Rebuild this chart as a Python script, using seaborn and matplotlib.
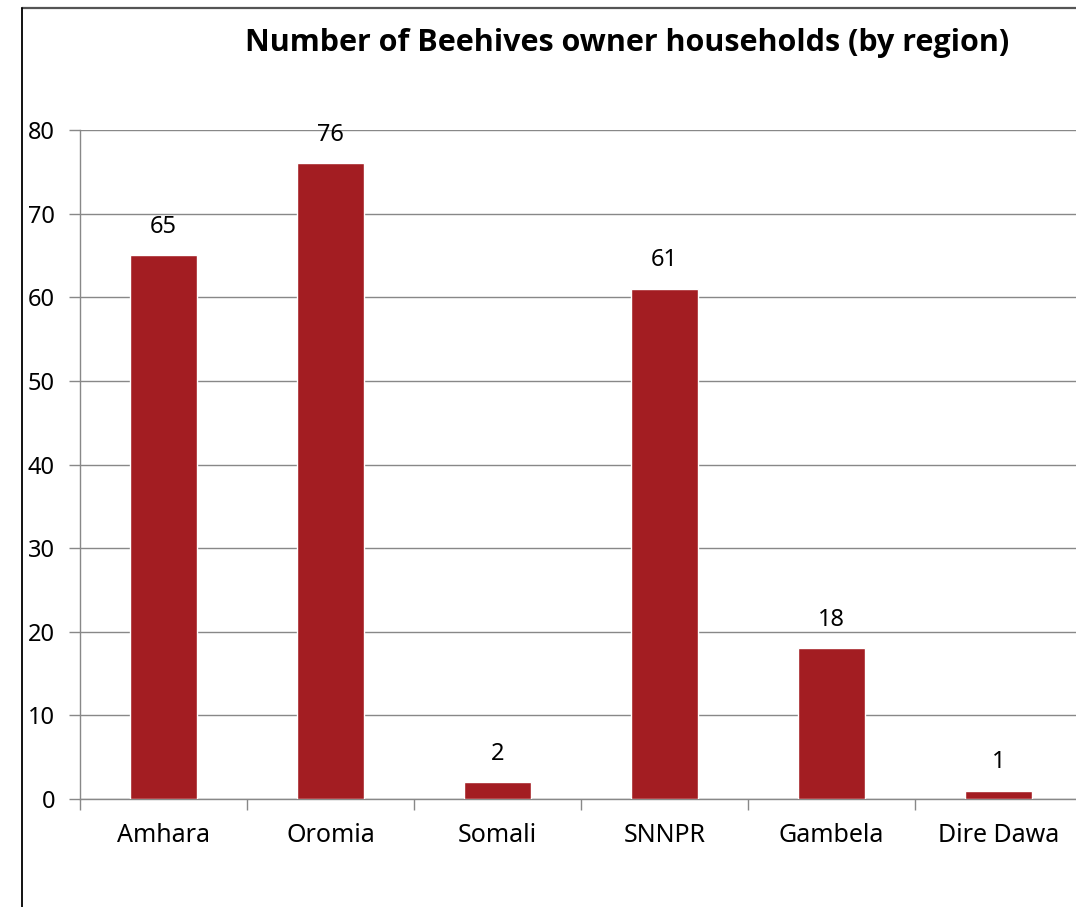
import matplotlib
matplotlib.use("Agg")
import matplotlib.pyplot as plt
from matplotlib.lines import Line2D
import seaborn as sns
import pandas as pd

regions = ["Amhara", "Oromia", "Somali", "SNNPR", "Gambela", "Dire Dawa"]
households = [65, 76, 2, 61, 18, 1]
y_ticks = [0, 10, 20, 30, 40, 50, 60, 70, 80]
title = "Number of Beehives owner households (by region)"

sns.set_theme(style="white")
plt.rcParams["font.family"] = ["Noto Sans", "DejaVu Sans"]
plt.rcParams["text.color"] = "black"
plt.rcParams["xtick.color"] = "black"
plt.rcParams["ytick.color"] = "black"

df = pd.DataFrame({"region": regions, "households": households})

W, H = 1076, 907
fig = plt.figure(figsize=(W / 100, H / 100), dpi=100)
ax = fig.add_axes([80 / W, (H - 799) / H, (1082 - 80) / W, 669 / H])

bar_color = "#A31D22"
sns.barplot(data=df, x="region", y="households", color=bar_color,
            width=0.4, saturation=1, ax=ax, zorder=3)

ax.set_ylim(0, 80)
ax.set_xlim(-0.5, len(regions) - 0.5)
ax.set_yticks(y_ticks)
ax.set_yticklabels([str(t) for t in y_ticks], fontsize=17)
ax.set_xlabel("")
ax.set_ylabel("")

grid_c = "#888888"
ax.yaxis.grid(True, color=grid_c, linewidth=1.0, zorder=0)
ax.set_axisbelow(True)
for side in ["top", "right"]:
    ax.spines[side].set_visible(False)
for side in ["left", "bottom"]:
    ax.spines[side].set_color(grid_c)
    ax.spines[side].set_linewidth(1.0)

ax.tick_params(axis="y", left=True, length=8, width=1, color=grid_c,
               labelcolor="black", pad=10)
# category labels sit centred, tick marks fall between the categories
ax.set_xticks(range(len(regions)))
ax.set_xticklabels(regions, fontsize=18)
ax.tick_params(axis="x", bottom=False, pad=11, labelcolor="black")
ax.set_xticks([i - 0.5 for i in range(len(regions) + 1)], minor=True)
ax.tick_params(axis="x", which="minor", bottom=True, length=8, width=1, color=grid_c)

for i, v in enumerate(households):
    ax.annotate(str(v), xy=(i, v), xytext=(0, 12), textcoords="offset points",
                ha="center", va="bottom", fontsize=17, color="black")

fig.text(627 / W, 1 - 43 / H, title, ha="center", va="center",
         fontsize=22, fontweight="bold", color="black",
         family=["Open Sans", "DejaVu Sans"])

# chart frame
fig.add_artist(Line2D([22 / W, 1.0], [1 - 8 / H, 1 - 8 / H],
                      transform=fig.transFigure, color="#555555", linewidth=1.6))
fig.add_artist(Line2D([22 / W, 22 / W], [0, 1 - 8 / H],
                      transform=fig.transFigure, color="black", linewidth=1.3))

fig.savefig("out.png", dpi=100)
